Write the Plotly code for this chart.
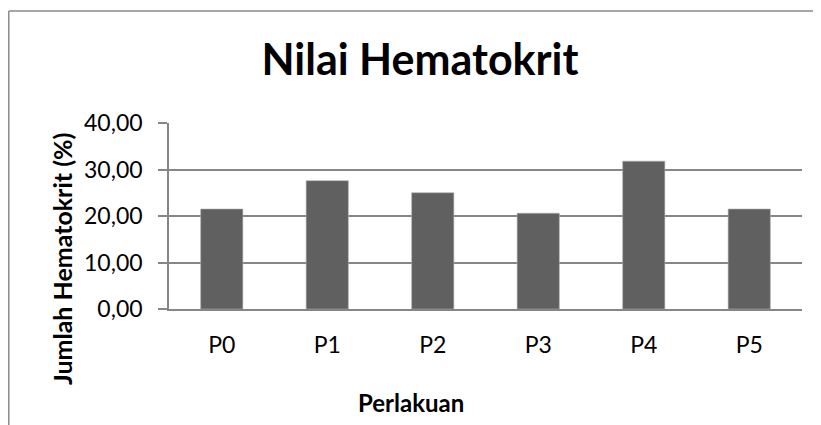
import plotly.graph_objects as go

categories = ["P0", "P1", "P2", "P3", "P4", "P5"]
values = [21.5, 27.6, 25.0, 20.6, 31.8, 21.5]
y_ticks = [0, 10, 20, 30, 40]
y_tick_labels = ["0,00", "10,00", "20,00", "30,00", "40,00"]

# page body has an 8px default margin; work in figure pixels = screen - 8
OFF = 8
W, H = 821 - OFF, 425 - OFF
L, T = 169 - OFF, 123 - OFF
R = W - (802 - OFF)
B = H - (309 - OFF)
pw = W - L - R
ph = H - T - B

def px_x(x):
    return (x - OFF - L) / pw

def px_y(y):
    return (H - B - (y - OFF)) / ph

FONT = "Lato"
GRID = "#868686"

fig = go.Figure(
    go.Bar(
        x=categories,
        y=values,
        marker=dict(color="#606060", line=dict(width=0.6, color="#b0b0b0")),
        width=0.4,
    )
)

fig.update_layout(
    width=W,
    height=H,
    margin=dict(l=L, r=R, t=T, b=B),
    paper_bgcolor="white",
    plot_bgcolor="white",
    showlegend=False,
    font=dict(family=FONT, color="#000000"),
    title=dict(
        text="<b>Nilai Hematokrit</b>",
        x=(420 - OFF) / W,
        xanchor="center",
        y=1 - (60 - OFF) / H,
        yanchor="middle",
        font=dict(family=FONT, size=43, color="#000000"),
    ),
    xaxis=dict(
        showgrid=False,
        showline=True,
        linecolor=GRID,
        linewidth=1.6,
        ticks="",
        tickfont=dict(family=FONT, size=23, color="#000000"),
        ticklabelstandoff=15,
        zeroline=False,
    ),
    yaxis=dict(
        range=[0, 40],
        tickvals=y_ticks,
        ticktext=y_tick_labels,
        showgrid=True,
        gridcolor=GRID,
        gridwidth=1.6,
        showline=True,
        linecolor=GRID,
        linewidth=1.6,
        ticks="outside",
        ticklen=9,
        tickwidth=1.6,
        tickcolor=GRID,
        tickfont=dict(family=FONT, size=23, color="#000000"),
        ticklabelstandoff=11,
        zeroline=False,
    ),
    annotations=[
        dict(
            text="<b>Perlakuan</b>",
            xref="paper", yref="paper",
            x=px_x(411), y=px_y(402),
            xanchor="center", yanchor="middle",
            showarrow=False,
            font=dict(family=FONT, size=24, color="#000000"),
        ),
        dict(
            text="<b>Jumlah Hematokrit (%)</b>",
            xref="paper", yref="paper",
            x=px_x(62), y=px_y(259),
            xanchor="center", yanchor="middle",
            textangle=-90,
            showarrow=False,
            font=dict(family=FONT, size=25, color="#000000"),
        ),
    ],
    shapes=[
        dict(type="line", xref="paper", yref="paper",
             x0=px_x(8.8), x1=px_x(8.8), y0=px_y(440), y1=px_y(11),
             line=dict(color="#8a8a8a", width=1.5)),
        dict(type="line", xref="paper", yref="paper",
             x0=px_x(8.8), x1=px_x(840), y0=px_y(11), y1=px_y(11),
             line=dict(color="#8a8a8a", width=1.5)),
    ],
)

fig.write_html("out.html")
